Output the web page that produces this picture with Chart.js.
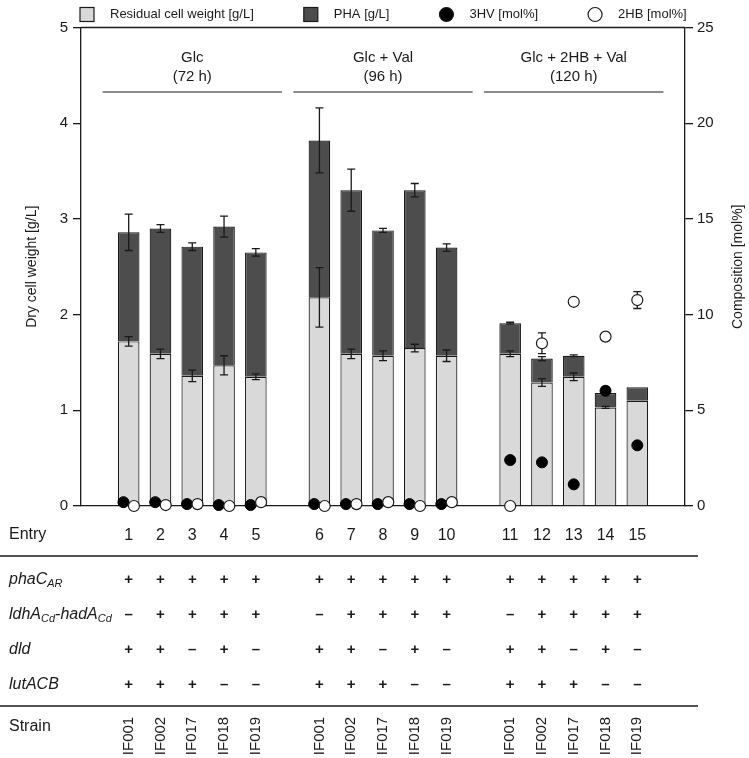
<!DOCTYPE html>
<html>
<head>
<meta charset="utf-8">
<script src="https://cdn.jsdelivr.net/npm/chart.js@4.4.0/dist/chart.umd.min.js"></script>
<style>
  html, body { margin: 0; padding: 0; background: #fff; }
  canvas { display: block; }
</style>
</head>
<body>
<canvas id="dcw-chart" width="749" height="758"></canvas>
<script>
// ---- data ----
// x slots: one empty slot at each end and between the three culture conditions
const slotLabels = ['', '1', '2', '3', '4', '5', '', '6', '7', '8', '9', '10', '', '11', '12', '13', '14', '15', ''];

const groupNames = ['Glc', 'Glc + Val', 'Glc + 2HB + Val'];
const groupTimes = ['(72 h)', '(96 h)', '(120 h)'];

// per entry 1..15, g/L
const residual    = [1.72, 1.59, 1.36, 1.47, 1.35, 2.18, 1.59, 1.57, 1.65, 1.57, 1.59, 1.29, 1.35, 1.03, 1.10];
const residualErr = [0.05, 0.05, 0.06, 0.10, 0.03, 0.31, 0.05, 0.05, 0.04, 0.06, 0.03, 0.04, 0.04, 0.01, 0];
const totalDcw    = [2.86, 2.90, 2.71, 2.92, 2.65, 3.82, 3.30, 2.88, 3.30, 2.70, 1.91, 1.54, 1.57, 1.18, 1.24];
const totalErr    = [0.19, 0.04, 0.04, 0.11, 0.04, 0.34, 0.22, 0.02, 0.07, 0.04, 0.01, 0.02, 0.01, 0.01, 0];

// per entry, mol%
const hv3    = [0.2, 0.2, 0.1, 0.05, 0.05, 0.1, 0.1, 0.1, 0.1, 0.1, 2.40, 2.28, 1.13, 6.02, 3.17];
const hv3Err = [0, 0, 0, 0, 0, 0, 0, 0, 0, 0, 0, 0, 0, 0.2, 0];
const hb2    = [0, 0.05, 0.1, 0, 0.2, 0, 0.1, 0.2, 0, 0.2, 0, 8.5, 10.67, 8.85, 10.76];
const hb2Err = [0, 0, 0, 0, 0, 0, 0, 0, 0, 0, 0, 0.54, 0, 0, 0.44];

const legendLabels = ['Residual cell weight [g/L]', 'PHA [g/L]', '3HV [mol%]', '2HB [mol%]'];

// genotype table
const phaC    = ['+', '+', '+', '+', '+', '+', '+', '+', '+', '+', '+', '+', '+', '+', '+'];
const ldhHad  = ['–', '+', '+', '+', '+', '–', '+', '+', '+', '+', '–', '+', '+', '+', '+'];
const dld     = ['+', '+', '–', '+', '–', '+', '+', '–', '+', '–', '+', '+', '–', '+', '–'];
const lutACB  = ['+', '+', '+', '–', '–', '+', '+', '+', '–', '–', '+', '+', '+', '–', '–'];
const strains = ['IF001', 'IF002', 'IF017', 'IF018', 'IF019', 'IF001', 'IF002', 'IF017', 'IF018', 'IF019',
                 'IF001', 'IF002', 'IF017', 'IF018', 'IF019'];

// ---- helpers ----
const FONT = "'Liberation Sans', Arial, sans-serif";
const INK = '#1a1a1a';
const RES_COLOR = '#d9d9d9';
const PHA_COLOR = '#4d4d4d';

const entrySlot = (i) => 1 + i + Math.floor(i / 5);
const groupOf = (i) => Math.floor(i / 5);
// dots of the first two groups sit side by side
const dotShift = (i, dir) => (groupOf(i) < 2 ? dir * 0.165 : 0);

const resData = slotLabels.map(() => null);
const phaData = slotLabels.map(() => null);
residual.forEach((v, i) => {
    resData[entrySlot(i)] = v;
    phaData[entrySlot(i)] = +(totalDcw[i] - v).toFixed(3);
});
const hvPoints = hv3.map((v, i) => ({ x: entrySlot(i) + dotShift(i, -1), y: v }));
const hbPoints = hb2.map((v, i) => ({ x: entrySlot(i) + dotShift(i, 1), y: v }));

function errorBar(ctx, x, yTop, yBot) {
    const cap = 4;
    ctx.beginPath();
    ctx.moveTo(x, yTop); ctx.lineTo(x, yBot);
    ctx.moveTo(x - cap, yTop); ctx.lineTo(x + cap, yTop);
    ctx.moveTo(x - cap, yBot); ctx.lineTo(x + cap, yBot);
    ctx.stroke();
}

// text made of italic pieces, some of them subscripts
function geneLabel(ctx, parts, x, y) {
    ctx.textAlign = 'left';
    ctx.textBaseline = 'middle';
    parts.forEach(([txt, sub]) => {
        ctx.font = sub ? `italic 11px ${FONT}` : `italic 16px ${FONT}`;
        ctx.fillText(txt, x, sub ? y + 4 : y);
        x += ctx.measureText(txt).width;
    });
}

const errorBarsPlugin = {
    id: 'errorBars',
    afterDatasetDraw(chart, args) {
        if (args.index !== 0) return; // residual is the last bar layer drawn
        const { ctx } = chart;
        const y = chart.scales.y, yr = chart.scales.yr;
        const bars = chart.getDatasetMeta(0).data;
        const hbMeta = chart.getDatasetMeta(3).data;
        const hvMeta = chart.getDatasetMeta(2).data;
        ctx.save();
        ctx.strokeStyle = INK;
        ctx.lineWidth = 1.3;
        residual.forEach((v, i) => {
            const x = bars[entrySlot(i)].x;
            if (residualErr[i]) errorBar(ctx, x, y.getPixelForValue(v + residualErr[i]), y.getPixelForValue(v - residualErr[i]));
            if (totalErr[i]) errorBar(ctx, x, y.getPixelForValue(totalDcw[i] + totalErr[i]), y.getPixelForValue(totalDcw[i] - totalErr[i]));
            if (hb2Err[i]) errorBar(ctx, hbMeta[i].x, yr.getPixelForValue(hb2[i] + hb2Err[i]), yr.getPixelForValue(hb2[i] - hb2Err[i]));
            if (hv3Err[i]) errorBar(ctx, hvMeta[i].x, yr.getPixelForValue(hv3[i] + hv3Err[i]), yr.getPixelForValue(hv3[i] - hv3Err[i]));
        });
        ctx.restore();
    }
};

const decorPlugin = {
    id: 'decor',
    afterDraw(chart) {
        const { ctx, chartArea: area } = chart;
        const xp = chart.scales.xp;
        const bars = chart.getDatasetMeta(0).data;
        ctx.save();
        ctx.fillStyle = INK;
        ctx.strokeStyle = INK;

        // top frame line
        ctx.lineWidth = 1.3;
        ctx.beginPath();
        ctx.moveTo(area.left, area.top);
        ctx.lineTo(area.right, area.top);
        ctx.stroke();

        // legend
        let lx = 80;
        const ly = 14.5;
        legendLabels.forEach((label, k) => {
            ctx.lineWidth = 1.2;
            if (k < 2) {
                ctx.fillStyle = k === 0 ? RES_COLOR : PHA_COLOR;
                ctx.fillRect(lx, ly - 7, 14, 14);
                ctx.strokeRect(lx, ly - 7, 14, 14);
            } else {
                ctx.beginPath();
                ctx.arc(lx + 7, ly, 7, 0, Math.PI * 2);
                ctx.fillStyle = k === 2 ? '#000' : '#fff';
                ctx.fill();
                ctx.stroke();
            }
            ctx.fillStyle = INK;
            ctx.font = `13px ${FONT}`;
            ctx.textAlign = 'left';
            ctx.textBaseline = 'middle';
            ctx.fillText(label, lx + 30, ly);
            lx += 30 + ctx.measureText(label).width + 50;
        });

        // culture condition headers
        ctx.font = `15px ${FONT}`;
        ctx.textAlign = 'center';
        groupNames.forEach((name, g) => {
            const mid = 3 + g * 6;
            const cx = xp.getPixelForValue(mid);
            ctx.fillText(name, cx, 58);
            ctx.fillText(groupTimes[g], cx, 77);
            ctx.lineWidth = 1.2;
            ctx.beginPath();
            ctx.moveTo(xp.getPixelForValue(mid - 2.82), 92);
            ctx.lineTo(xp.getPixelForValue(mid + 2.82), 92);
            ctx.stroke();
        });

        // right axis title
        ctx.save();
        ctx.translate(738, (area.top + area.bottom) / 2);
        ctx.rotate(-Math.PI / 2);
        ctx.font = `14px ${FONT}`;
        ctx.textAlign = 'center';
        ctx.textBaseline = 'middle';
        ctx.fillText('Composition [mol%]', 0, 0);
        ctx.restore();

        // genotype table
        ctx.font = `16px ${FONT}`;
        ctx.textAlign = 'left';
        ctx.textBaseline = 'middle';
        ctx.fillText('Entry', 9, 535);
        ctx.fillText('Strain', 9, 727);

        ctx.lineWidth = 1.5;
        [556, 706].forEach((ly2) => {
            ctx.beginPath();
            ctx.moveTo(0, ly2);
            ctx.lineTo(698, ly2);
            ctx.stroke();
        });

        const rows = [
            { parts: [['phaC', false], ['AR', true]], marks: phaC, y: 580 },
            { parts: [['ldhA', false], ['Cd', true], ['-hadA', false], ['Cd', true]], marks: ldhHad, y: 615 },
            { parts: [['dld', false]], marks: dld, y: 650 },
            { parts: [['lutACB', false]], marks: lutACB, y: 685 }
        ];
        rows.forEach((row) => {
            geneLabel(ctx, row.parts, 9, row.y);
            ctx.font = `bold 15px ${FONT}`;
            ctx.textAlign = 'center';
            row.marks.forEach((m, i) => ctx.fillText(m, bars[entrySlot(i)].x, row.y));
        });

        ctx.font = `15px ${FONT}`;
        strains.forEach((s, i) => {
            ctx.save();
            ctx.translate(bars[entrySlot(i)].x, 736);
            ctx.rotate(-Math.PI / 2);
            ctx.textAlign = 'center';
            ctx.textBaseline = 'middle';
            ctx.fillText(s, 0, 0);
            ctx.restore();
        });
        ctx.restore();
    }
};

const axisLine = { display: true, color: INK, width: 1.3 };
const tickMarks = { drawOnChartArea: false, drawTicks: true, tickLength: 8, color: INK, lineWidth: 1.3 };

new Chart(document.getElementById('dcw-chart'), {
    type: 'bar',
    data: {
        labels: slotLabels,
        datasets: [
            {
                label: legendLabels[0],
                data: resData,
                backgroundColor: RES_COLOR,
                borderColor: INK,
                borderWidth: 1.2,
                stack: 'dcw',
                grouped: false,
                order: 1
            },
            {
                label: legendLabels[1],
                data: phaData,
                backgroundColor: PHA_COLOR,
                borderColor: INK,
                borderWidth: 1.2,
                stack: 'dcw',
                grouped: false,
                order: 2
            },
            {
                type: 'scatter',
                label: legendLabels[2],
                data: hvPoints,
                xAxisID: 'xp',
                yAxisID: 'yr',
                pointRadius: 5.5,
                pointBackgroundColor: '#000',
                pointBorderColor: '#000',
                pointBorderWidth: 1,
                clip: false,
                order: 0.5
            },
            {
                type: 'scatter',
                label: legendLabels[3],
                data: hbPoints,
                xAxisID: 'xp',
                yAxisID: 'yr',
                pointRadius: 5.5,
                pointBackgroundColor: '#fff',
                pointBorderColor: INK,
                pointBorderWidth: 1.2,
                clip: false,
                order: 0
            }
        ]
    },
    options: {
        responsive: false,
        animation: false,
        layout: { padding: { top: 27.5, left: 0, right: 0, bottom: 0 } },
        datasets: { bar: { barPercentage: 0.68, categoryPercentage: 1.0 } },
        scales: {
            x: {
                stacked: true,
                offset: true,
                grid: { display: false, drawTicks: false },
                border: axisLine,
                ticks: {
                    color: INK,
                    padding: 20,
                    autoSkip: false,
                    maxRotation: 0,
                    font: { family: FONT, size: 16 }
                },
                afterFit: (s) => { s.height = 252; }
            },
            xp: {
                type: 'linear',
                min: -0.5,
                max: 18.5,
                offset: false,
                grid: { offset: false },
                display: false
            },
            y: {
                stacked: true,
                position: 'left',
                min: 0,
                max: 5,
                border: axisLine,
                grid: tickMarks,
                ticks: {
                    stepSize: 1,
                    color: INK,
                    padding: 5,
                    font: { family: FONT, size: 15 }
                },
                title: {
                    display: true,
                    text: 'Dry cell weight [g/L]',
                    color: INK,
                    padding: { top: 24, bottom: 0 },
                    font: { family: FONT, size: 14 }
                },
                afterFit: (s) => { s.width = 81; }
            },
            yr: {
                position: 'right',
                min: 0,
                max: 25,
                border: axisLine,
                grid: tickMarks,
                ticks: {
                    stepSize: 5,
                    color: INK,
                    padding: 4,
                    font: { family: FONT, size: 15 }
                },
                afterFit: (s) => { s.width = 64; }
            }
        },
        plugins: {
            legend: { display: false },
            tooltip: { enabled: false }
        }
    },
    plugins: [errorBarsPlugin, decorPlugin]
});
</script>
</body>
</html>
